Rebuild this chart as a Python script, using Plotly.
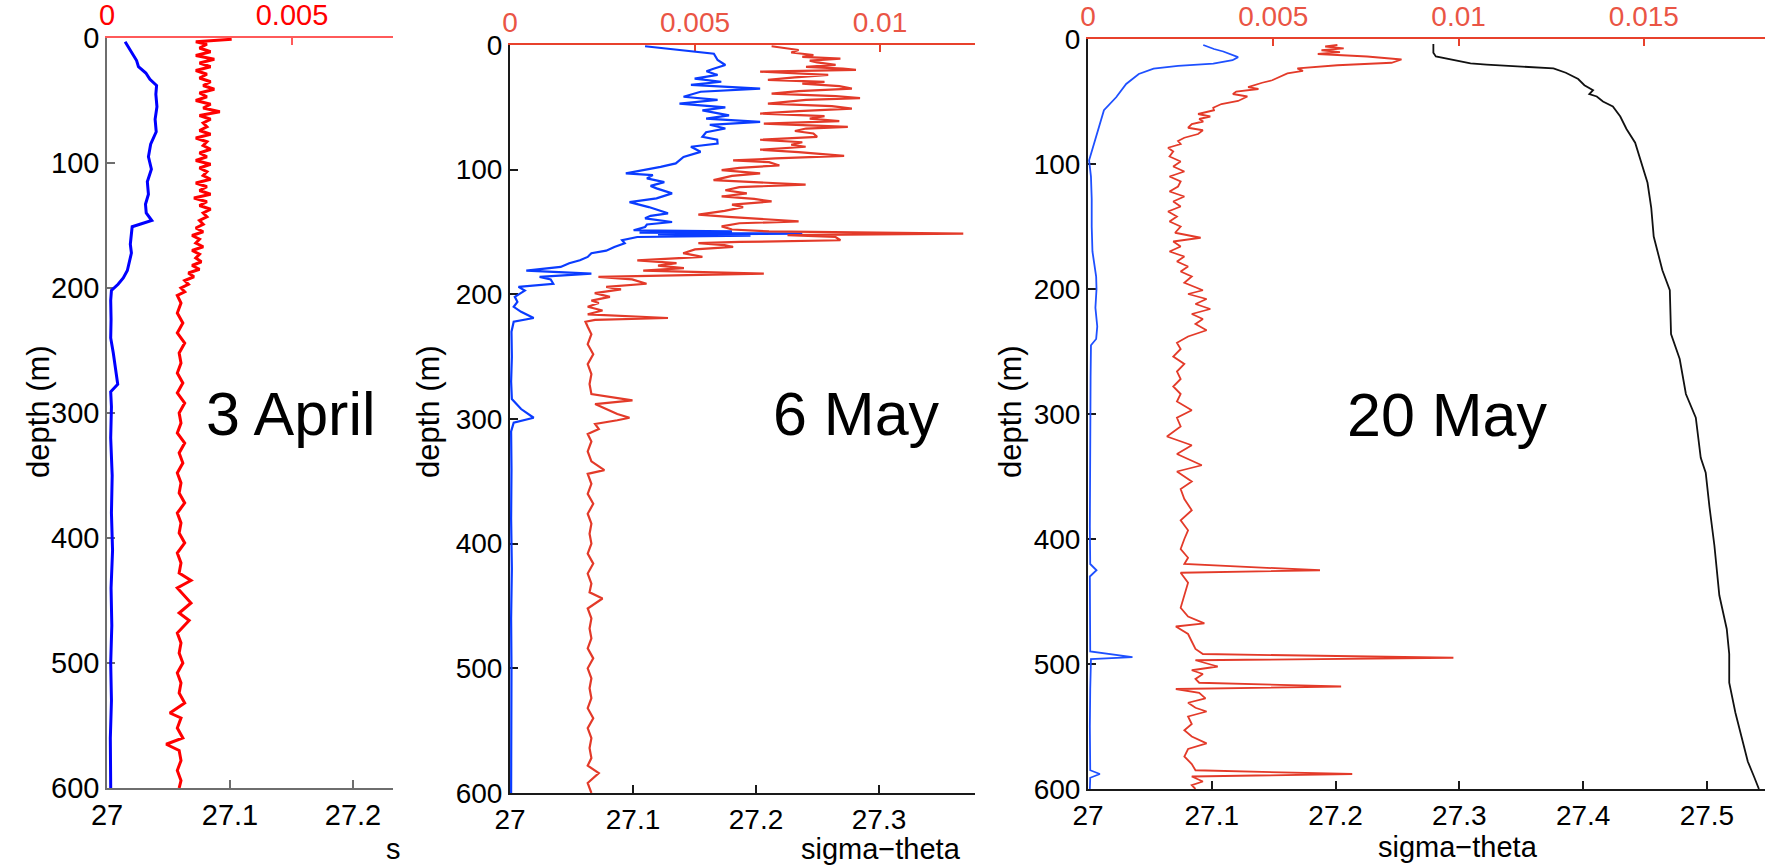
import plotly.graph_objects as go

W, H = 1765, 865
FONT = "Liberation Sans, Arial, Helvetica, sans-serif"

# ---------------- data ----------------
# Panel 1 : 3 April  (top axis values vs depth)
p1_blue_depth = [3, 8, 12, 18, 23, 28, 33, 38, 45, 55, 65, 75, 85, 95, 105, 115, 125, 133, 140, 146,
                 151, 158, 165, 172, 180, 186, 192, 197, 202, 210, 225, 240, 252, 262, 270, 277, 283,
                 295, 320, 350, 380, 410, 440, 470, 500, 530, 560, 590, 600]
p1_blue_val = [0.00049, 0.0006, 0.00068, 0.0008, 0.00085, 0.00105, 0.00116, 0.00134, 0.00132, 0.00135,
               0.0013, 0.00133, 0.00118, 0.00112, 0.0012, 0.00109, 0.00112, 0.00104, 0.00106, 0.00121,
               0.00068, 0.00065, 0.00063, 0.00066, 0.0006, 0.00055, 0.00044, 0.0003, 0.00012, 0.0001,
               0.00011, 0.0001, 0.00017, 0.00022, 0.00026, 0.00029, 0.0001, 0.00012, 0.0001, 0.00014,
               0.00012, 0.00015, 0.00011, 0.00013, 0.0001, 0.00012, 0.00009, 0.00011, 0.0001]

p1_red_depth = [1, 3, 5, 8, 11, 14, 17, 20, 23, 26, 29, 32, 35, 38, 41, 44, 47, 50, 53, 56, 59, 62, 65,
                68, 71, 74, 77, 80, 83, 86, 89, 92, 95, 98, 101, 104, 107, 110, 113, 116, 119, 122, 125,
                128, 131, 134, 137, 140, 143, 146, 149, 152, 155, 158, 161, 164, 167, 170, 173, 176, 179,
                182, 185, 188, 191, 194, 197, 200, 203, 206, 212, 220, 228, 236, 244, 252, 260, 268, 276,
                284, 292, 300, 308, 316, 324, 332, 340, 348, 356, 364, 372, 380, 388, 396, 404, 412, 420,
                428, 434, 440, 452, 460, 466, 476, 484, 492, 500, 508, 516, 524, 532, 540, 544, 552, 560,
                565, 570, 578, 586, 594, 600]
p1_red_val = [0.00337, 0.0024, 0.0027, 0.0025, 0.0028, 0.0024, 0.0029, 0.0025, 0.0028, 0.0024, 0.0027,
              0.0025, 0.0028, 0.0026, 0.0029, 0.0025, 0.0027, 0.0024, 0.0028, 0.0026, 0.00305, 0.0025,
              0.0028, 0.0026, 0.0027, 0.0025, 0.0028, 0.0024, 0.0027, 0.0026, 0.0028, 0.0025, 0.0027,
              0.0024, 0.0028, 0.0025, 0.0027, 0.0026, 0.0028, 0.0024, 0.0027, 0.0025, 0.0028, 0.00235,
              0.0027, 0.0025, 0.0028, 0.0026, 0.0027, 0.0025, 0.0026, 0.0024, 0.0026, 0.0023, 0.0025,
              0.0024, 0.0026, 0.0023, 0.0025, 0.0024, 0.00255, 0.0023, 0.0025, 0.0022, 0.00235, 0.0021,
              0.0022, 0.002, 0.0021, 0.0019, 0.002, 0.0019, 0.00205, 0.0019, 0.0021, 0.00195, 0.002,
              0.0019, 0.00205, 0.0019, 0.0021, 0.00195, 0.002, 0.0019, 0.0021, 0.00195, 0.00205, 0.0019,
              0.002, 0.00195, 0.0021, 0.0019, 0.002, 0.00195, 0.0021, 0.0019, 0.002, 0.00195, 0.00227,
              0.0019, 0.00227, 0.00195, 0.00222, 0.0019, 0.002, 0.00195, 0.00205, 0.0019, 0.002, 0.00195,
              0.0021, 0.0017, 0.002, 0.0019, 0.00205, 0.0016, 0.00195, 0.002, 0.0019, 0.002, 0.00195]

# Panel 2 : 6 May
p2_blue_depth = [1, 5, 7, 12, 16, 19, 21, 24, 27, 29.5, 32, 35, 37.5, 41.5, 44, 47, 50, 52.5, 56.5, 59,
                 61.6, 64, 67, 70, 73.7, 76, 79, 81.6, 85.7, 89.8, 95, 97.8, 103, 104.4, 107, 110, 113,
                 115, 119, 123, 126, 130, 135, 137, 139, 142, 144, 146, 148.6, 149.5, 150.5, 151.3, 152,
                 153, 154, 156.6, 159, 162, 165, 167, 170, 172.7, 175, 178, 181, 183.4, 186, 188, 191.5,
                 194, 197, 202, 206, 210, 214, 219, 222, 230, 250, 270, 284, 292, 299, 303, 310, 340, 380,
                 420, 460, 500, 540, 580, 600]
p2_blue_val = [0.00365, 0.00489, 0.00551, 0.00561, 0.00582, 0.0055, 0.00531, 0.00561, 0.00499, 0.00571,
               0.00489, 0.00676, 0.00515, 0.00469, 0.00561, 0.00458, 0.00582, 0.0052, 0.00592, 0.0053,
               0.00676, 0.0054, 0.00582, 0.0053, 0.0052, 0.0056, 0.00561, 0.00489, 0.00515, 0.00469,
               0.00448, 0.00407, 0.00313, 0.00386, 0.0037, 0.00417, 0.0038, 0.00396, 0.00438, 0.00396,
               0.00323, 0.00375, 0.00427, 0.0038, 0.00365, 0.00438, 0.0037, 0.00365, 0.00334, 0.006,
               0.0035, 0.0079, 0.004, 0.0065, 0.00344, 0.00303, 0.0031, 0.00282, 0.0026, 0.0022, 0.0021,
               0.00189, 0.0016, 0.00137, 0.00044, 0.0022, 0.0008, 0.0011, 0.00117, 0.00023, 0.0004,
               0.00013, 0.0002, 0.0001, 0.0003, 0.00064, 0.0001, 0.00004, 0.00005, 0.00003, 0.00005,
               0.0003, 0.00064, 0.0001, 0.00003, 0.00004, 0.00003, 0.00005, 0.00003, 0.00004, 0.00003,
               0.00004, 0.00003]

p2_red_depth = [1, 2.5, 4, 6, 8, 9.5, 11, 12.5, 14, 16, 17.5, 19, 20, 21.4, 23, 24, 26, 28, 29.5, 31, 33,
                35, 37, 39, 41, 42.6, 44, 46, 47, 49, 51, 53, 55, 57, 59, 61, 63, 65.6, 67, 69, 71, 73.7,
                76, 78, 80, 81.6, 84, 86, 89, 91, 92.6, 94, 96.6, 98.5, 100.4, 103, 105, 108.4, 110, 112,
                114, 116.5, 119, 121.5, 123.5, 125.5, 128, 130, 133, 136, 138, 141.5, 143, 145.5, 148,
                149.5, 151.3, 152.5, 154, 156.6, 158, 159, 160.5, 162, 164, 167, 170, 172.7, 175, 177,
                179, 181, 183.4, 185, 186, 188, 191.5, 194, 196, 199, 202, 205, 207, 210, 213, 216, 219,
                220.5, 222, 226, 232, 240, 248, 256, 264, 272, 280, 285, 288, 292, 296, 299, 301, 304,
                308, 312, 318, 326, 334, 341, 344, 352, 360, 368, 376, 384, 392, 400, 408, 416, 424, 432,
                439, 444, 452, 460, 468, 476, 484, 492, 500, 508, 516, 524, 532, 540, 548, 556, 564, 572,
                578, 584, 592, 600]
p2_red_val = [0.00707, 0.0074, 0.0078, 0.0076, 0.0082, 0.0079, 0.00893, 0.0081, 0.0083, 0.0088, 0.008,
              0.009, 0.00935, 0.00676, 0.008, 0.0086, 0.0077, 0.00697, 0.0085, 0.0079, 0.0089, 0.00924,
              0.0078, 0.00707, 0.0088, 0.00946, 0.008, 0.0074, 0.00697, 0.0087, 0.00924, 0.0078, 0.00676,
              0.0085, 0.0081, 0.0089, 0.00686, 0.00913, 0.008, 0.0077, 0.0082, 0.0083, 0.00676, 0.0079,
              0.0076, 0.00799, 0.00676, 0.0078, 0.00903, 0.00717, 0.00603, 0.007, 0.00728, 0.0062,
              0.00572, 0.00676, 0.006, 0.0055, 0.0065, 0.00799, 0.0062, 0.00582, 0.0064, 0.00572, 0.0066,
              0.00707, 0.006, 0.0063, 0.0058, 0.00509, 0.006, 0.0078, 0.0062, 0.00572, 0.006, 0.007,
              0.01225, 0.0075, 0.0088, 0.00893, 0.0062, 0.00509, 0.0058, 0.00603, 0.005, 0.00468, 0.0052,
              0.00344, 0.0045, 0.004, 0.0047, 0.0036, 0.00686, 0.0035, 0.00239, 0.0033, 0.00369, 0.0026,
              0.003, 0.00229, 0.0027, 0.0022, 0.0024, 0.0021, 0.0025, 0.0021, 0.00427, 0.0023, 0.00204,
              0.0021, 0.0022, 0.0021, 0.00225, 0.0021, 0.0022, 0.00215, 0.0022, 0.00331, 0.0023, 0.0026,
              0.0029, 0.00323, 0.0029, 0.0023, 0.0024, 0.0021, 0.0022, 0.0021, 0.0022, 0.00255, 0.0021,
              0.0022, 0.0021, 0.00225, 0.0021, 0.0022, 0.00215, 0.0022, 0.0021, 0.00225, 0.0021, 0.0022,
              0.00215, 0.0025, 0.0021, 0.0022, 0.00215, 0.0022, 0.0021, 0.00225, 0.0021, 0.0022, 0.00215,
              0.0022, 0.0021, 0.00225, 0.0021, 0.0022, 0.00215, 0.0022, 0.0021, 0.0024, 0.0021, 0.0022,
              0.00215]

# Panel 3 : 20 May
p3_blue_depth = [4.8, 8, 10, 12.5, 14.5, 17, 19.7, 21.5, 23.7, 28, 36, 46.6, 57, 70, 83, 97, 110, 128,
                 150, 170, 190, 200, 215, 230, 240, 245, 270, 300, 330, 360, 390, 420, 425, 430, 460,
                 490, 494.5, 496, 520, 550, 585, 588, 591, 600]
p3_blue_val = [0.00311, 0.0034, 0.00365, 0.0039, 0.00405, 0.0039, 0.00338, 0.00243, 0.00177, 0.00137,
               0.00103, 0.00076, 0.00043, 0.0003, 0.00016, 0.00003, 0.00008, 0.0001, 0.0001, 0.00012,
               0.00022, 0.00023, 0.0002, 0.00025, 0.00022, 0.00008, 0.00007, 0.00006, 0.00005, 0.00006,
               0.00005, 0.00006, 0.00023, 0.00005, 0.00005, 0.00006, 0.0012, 0.00008, 0.00006, 0.00005,
               0.00006, 0.00032, 0.00006, 0.00005]

p3_red_depth = [4.8, 6, 7.5, 9, 10.5, 12, 14, 16.4, 19, 21, 23.5, 25.5, 27.5, 30, 33, 35, 38.5, 40, 42,
                44, 46, 49.6, 52, 55, 57, 60, 62, 64, 66, 68, 71, 73, 76, 79, 81.6, 84, 87, 90, 94, 98,
                102, 106, 110, 114, 118, 122, 126, 130, 134, 138, 142, 146, 150, 155, 159, 162, 166, 170,
                174, 178, 182, 186, 190, 195, 198, 201, 204, 208, 212, 216, 220, 224, 228, 233, 238, 243,
                248, 254, 260, 266, 272, 278, 284, 290, 297, 303, 310, 318, 325, 332, 341, 346, 354, 360,
                368, 377, 385, 393, 400, 408, 415, 420, 425, 427, 435, 445, 455, 462, 467.5, 470, 476, 482,
                488, 492, 495, 497, 500, 502, 505, 508, 512, 515, 518, 520, 523, 527.5, 531, 535, 538, 542,
                548, 553, 558, 563.5, 568, 574, 580, 585, 588, 590, 594, 597, 600]
p3_red_val = [0.00673, 0.0064, 0.0069, 0.0063, 0.0068, 0.0062, 0.00753, 0.00846, 0.00819, 0.00673,
              0.00565, 0.0058, 0.00538, 0.0052, 0.00497, 0.0047, 0.00432, 0.0046, 0.004, 0.00391, 0.0043,
              0.00405, 0.0036, 0.00338, 0.0034, 0.00297, 0.0033, 0.003, 0.00311, 0.0028, 0.0027, 0.0031,
              0.00297, 0.0026, 0.00243, 0.0025, 0.00216, 0.0023, 0.0022, 0.0025, 0.0023, 0.0026, 0.0022,
              0.0025, 0.00243, 0.0022, 0.0026, 0.0023, 0.0025, 0.00216, 0.0024, 0.0022, 0.0025, 0.00235,
              0.00304, 0.0023, 0.0025, 0.0022, 0.0026, 0.0024, 0.0027, 0.0025, 0.0028, 0.0026, 0.00284,
              0.0031, 0.0027, 0.0032, 0.0029, 0.0033, 0.0028, 0.0031, 0.0029, 0.0032, 0.0027, 0.0024,
              0.0025, 0.0023, 0.0026, 0.0024, 0.0025, 0.0023, 0.0025, 0.0024, 0.0028, 0.0024, 0.0025,
              0.00213, 0.0028, 0.0024, 0.00307, 0.0024, 0.0028, 0.0025, 0.0026, 0.0028, 0.0025, 0.0027,
              0.0026, 0.0025, 0.0027, 0.0026, 0.00626, 0.0025, 0.0027, 0.0026, 0.0025, 0.0027, 0.00314,
              0.00237, 0.0027, 0.0028, 0.0029, 0.0031, 0.00986, 0.0029, 0.0033, 0.0035, 0.0028, 0.0031,
              0.0029, 0.003, 0.00683, 0.00237, 0.003, 0.00317, 0.0027, 0.0029, 0.0032, 0.0027, 0.0028,
              0.0026, 0.0028, 0.0032, 0.0027, 0.0026, 0.0028, 0.0029, 0.00713, 0.0028, 0.0031, 0.0028,
              0.0029]

p3_sigma_depth = [4, 11, 14, 17, 19.5, 20.5, 22, 23.5, 27, 32, 37, 41, 44, 46, 50, 54, 62, 72, 83, 100,
                  115, 135, 158, 185, 201, 236, 256, 284, 303, 335, 347, 374, 405, 445, 472, 492, 515,
                  539, 563, 578, 590, 600]
p3_sigma_val = [27.279, 27.279, 27.281, 27.298, 27.309, 27.322, 27.345, 27.376, 27.386, 27.396, 27.401,
                27.408, 27.405, 27.411, 27.416, 27.424, 27.430, 27.435, 27.442, 27.447, 27.452, 27.455,
                27.457, 27.464, 27.470, 27.471, 27.478, 27.483, 27.491, 27.495, 27.499, 27.502, 27.506,
                27.510, 27.516, 27.518, 27.518, 27.523, 27.529, 27.533, 27.538, 27.542]

depth_ticks = [0, 100, 200, 300, 400, 500, 600]
p1_sigma_ticks = [27, 27.1, 27.2]
p2_sigma_ticks = [27, 27.1, 27.2, 27.3]
p3_sigma_ticks = [27, 27.1, 27.2, 27.3, 27.4, 27.5]
p1_val_ticks, p1_val_text = [0, 0.005], ["0", "0.005"]
p2_val_ticks, p2_val_text = [0, 0.005, 0.01], ["0", "0.005", "0.01"]
p3_val_ticks, p3_val_text = [0, 0.005, 0.01, 0.015], ["0", "0.005", "0.01", "0.015"]
dates = ["3 April", "6 May", "20 May"]


def fx(x):
    return x / W


def fy(y):
    return 1 - y / H


fig = go.Figure()

panels = [
    dict(l=107, r=393, t=38, b=788, srange=[27, 27.2325], vrange=[0, 0.00773],
         sticks=p1_sigma_ticks, vticks=p1_val_ticks, vtext=p1_val_text,
         axcol="#6e6e6e", axw=1.5, topcol="#ff5a5a", toptext="#ff0000",
         blue="#0000ff", red="#ff0000", lw=3, tfs=29),
    dict(l=510, r=975, t=45, b=793, srange=[27, 27.378], vrange=[0, 0.012567],
         sticks=p2_sigma_ticks, vticks=p2_val_ticks, vtext=p2_val_text,
         axcol="#1a1a1a", axw=2, topcol="#e8412c", toptext="#ea5545",
         blue="#0a3cff", red="#e33a29", lw=2.2, tfs=28),
    dict(l=1088, r=1765, t=39, b=789, srange=[27, 27.5469], vrange=[0, 0.018268],
         sticks=p3_sigma_ticks, vticks=p3_val_ticks, vtext=p3_val_text,
         axcol="#1a1a1a", axw=2, topcol="#e8412c", toptext="#ea5545",
         blue="#1e50ff", red="#e33a29", lw=1.8, tfs=28),
]

series = [
    [(p1_blue_val, p1_blue_depth, "blue"), (p1_red_val, p1_red_depth, "red")],
    [(p2_blue_val, p2_blue_depth, "blue"), (p2_red_val, p2_red_depth, "red")],
    [(p3_blue_val, p3_blue_depth, "blue"), (p3_red_val, p3_red_depth, "red")],
]

layout = dict(width=W, height=H, margin=dict(l=0, r=0, t=0, b=0, pad=0),
              paper_bgcolor="white", plot_bgcolor="rgba(0,0,0,0)", showlegend=False,
              template="none", font=dict(family=FONT, color="black"))

for i, p in enumerate(panels):
    n = i + 1
    xb = 2 * n - 1
    xt = 2 * n
    xb_name = "xaxis" if xb == 1 else f"xaxis{xb}"
    xt_name = f"xaxis{xt}"
    y_name = "yaxis" if n == 1 else f"yaxis{n}"
    xb_ref = "x" if xb == 1 else f"x{xb}"
    xt_ref = f"x{xt}"
    y_ref = "y" if n == 1 else f"y{n}"
    dom_x = [fx(p["l"]), fx(p["r"])]
    dom_y = [fy(p["b"]), fy(p["t"])]
    layout[xb_name] = dict(domain=dom_x, range=p["srange"], anchor=y_ref, side="bottom",
                           showline=True, linecolor=p["axcol"], linewidth=p["axw"],
                           ticks="inside", ticklen=8, tickwidth=1.5, tickcolor=p["axcol"],
                           tickvals=p["sticks"], ticktext=[f"{v:g}" for v in p["sticks"]],
                           tickfont=dict(family=FONT, size=p["tfs"], color="black"),
                           showgrid=False, zeroline=False, automargin=False, layer="below traces")
    layout[xt_name] = dict(range=p["vrange"], anchor=y_ref, side="top",
                           overlaying=xb_ref, showline=True, linecolor=p["topcol"], linewidth=1.5,
                           ticks="inside", ticklen=7, tickwidth=1.5, tickcolor=p["topcol"],
                           tickvals=p["vticks"], ticktext=p["vtext"],
                           tickfont=dict(family=FONT, size=p["tfs"], color=p["toptext"]),
                           showgrid=False, zeroline=False, automargin=False, layer="below traces")
    layout[y_name] = dict(domain=dom_y, range=[600, 0], anchor=xb_ref, side="left",
                          showline=True, linecolor=p["axcol"], linewidth=p["axw"],
                          ticks="inside", ticklen=8, tickwidth=1.5, tickcolor=p["axcol"],
                          tickvals=depth_ticks, ticktext=[str(v) for v in depth_ticks],
                          tickfont=dict(family=FONT, size=p["tfs"], color="black"),
                          showgrid=False, zeroline=False, automargin=False, layer="below traces")
    # empty placeholder so the base (sigma-theta) subplot of every panel exists
    fig.add_trace(go.Scatter(x=[], y=[], mode="lines", xaxis=xb_ref, yaxis=y_ref,
                             hoverinfo="skip", showlegend=False))
    for vals, deps, col in series[i]:
        fig.add_trace(go.Scatter(x=vals, y=deps, mode="lines", xaxis=xt_ref, yaxis=y_ref,
                                 line=dict(color=p[col], width=p["lw"]), hoverinfo="skip"))

# black sigma-theta profile in panel 3 (bottom axis)
fig.add_trace(go.Scatter(x=p3_sigma_val, y=p3_sigma_depth, mode="lines", xaxis="x5", yaxis="y3",
                         line=dict(color="#111111", width=1.8), hoverinfo="skip"))

annotations = []
for cx in (38, 428, 1010):
    annotations.append(dict(x=fx(cx), y=fy(412), xref="paper", yref="paper", text="depth (m)",
                            textangle=-90, showarrow=False, xanchor="center", yanchor="middle",
                            font=dict(family=FONT, size=31, color="black")))
for txt, cx, cy in zip(dates, (291, 856, 1447), (414, 414, 415)):
    annotations.append(dict(x=fx(cx), y=fy(cy), xref="paper", yref="paper", text=txt,
                            showarrow=False, xanchor="center", yanchor="middle",
                            font=dict(family=FONT, size=61, color="black")))
annotations.append(dict(x=fx(881), y=fy(849), xref="paper", yref="paper", text="sigma\u2212theta",
                        showarrow=False, xanchor="center", yanchor="middle",
                        font=dict(family=FONT, size=29, color="black")))
annotations.append(dict(x=fx(1458), y=fy(847), xref="paper", yref="paper", text="sigma\u2212theta",
                        showarrow=False, xanchor="center", yanchor="middle",
                        font=dict(family=FONT, size=29, color="black")))
annotations.append(dict(x=fx(384), y=fy(849), xref="paper", yref="paper", text="s",
                        showarrow=False, xanchor="left", yanchor="middle",
                        font=dict(family=FONT, size=29, color="black")))
layout["annotations"] = annotations

fig.update_layout(**layout)
fig.write_html("out.html")
